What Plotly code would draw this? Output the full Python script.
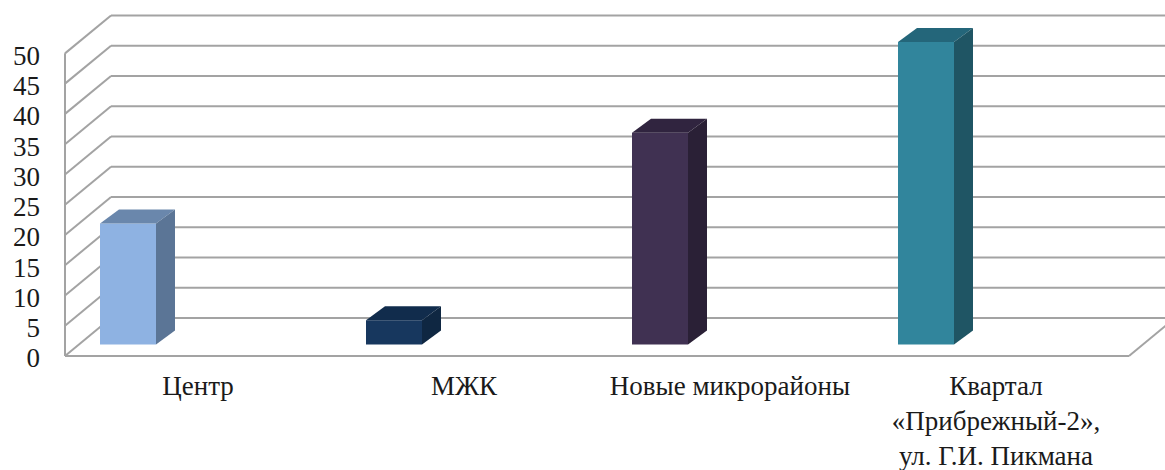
import plotly.graph_objects as go

categories = ["Центр", "МЖК", "Новые микрорайоны", "Квартал<br>«Прибрежный-2»,<br>ул. Г.И. Пикмана"]
values = [20, 4, 35, 50]
y_ticks = [0, 5, 10, 15, 20, 25, 30, 35, 40, 45, 50]

front_colors = ["#8eb2e2", "#17375e", "#403152", "#31859c"]
top_colors = ["#6a87ac", "#112c4c", "#30243f", "#24667a"]
side_colors = ["#5b7596", "#0f2742", "#2a2036", "#1f5564"]

# x axis is in pixels, y axis in chart units
px_per_unit = 6.06
floor_left = 65
floor_right = 1129
wall_dx = 46
wall_dy = 38 / px_per_unit
bar_width = 56
bar_dx = 19
bar_dy = 14 / px_per_unit
bar_base = 11.5 / px_per_unit
bar_shift = 70
grid_color = "#a3a3a3"

cat_width = (floor_right - floor_left) / len(categories)
centers = [floor_left + (i + 0.5) * cat_width for i in range(len(categories))]
bar_x = [c - bar_shift for c in centers]

fig = go.Figure()

# front faces
fig.add_trace(go.Bar(x=bar_x, y=values, base=bar_base, width=bar_width,
                     marker=dict(color=front_colors, line=dict(width=0))))

# top and side faces
for x, v, top, side in zip(bar_x, values, top_colors, side_colors):
    l = x - bar_width / 2
    r = x + bar_width / 2
    t = bar_base + v
    fig.add_trace(go.Scatter(x=[l, r, r + bar_dx, l + bar_dx, l],
                             y=[t, t, t + bar_dy, t + bar_dy, t],
                             mode="lines", fill="toself", fillcolor=top,
                             line=dict(width=0), hoverinfo="skip"))
    fig.add_trace(go.Scatter(x=[r, r + bar_dx, r + bar_dx, r, r],
                             y=[bar_base, bar_base + bar_dy, t + bar_dy, t, bar_base],
                             mode="lines", fill="toself", fillcolor=side,
                             line=dict(width=0), hoverinfo="skip"))

# walls and gridlines sit below the bars
shapes = []
def wall_line(x0, y0, x1, y1):
    shapes.append(dict(type="line", x0=x0, y0=y0, x1=x1, y1=y1, layer="below",
                       line=dict(color=grid_color, width=2)))

for t in y_ticks:
    wall_line(floor_left, t, floor_left + wall_dx, t + wall_dy)
    wall_line(floor_left + wall_dx, t + wall_dy, floor_right + wall_dx, t + wall_dy)
wall_line(floor_left, y_ticks[0], floor_left, y_ticks[-1])
wall_line(floor_left, y_ticks[0], floor_right, y_ticks[0])
wall_line(floor_right, y_ticks[0], floor_right + wall_dx, wall_dy)

font = dict(family="Liberation Serif", size=27, color="#1a1a1a")

fig.update_layout(
    width=1165, height=470, showlegend=False, shapes=shapes,
    margin=dict(l=44, r=0, t=11, b=111, autoexpand=False),
    paper_bgcolor="white", plot_bgcolor="white", font=font,
    xaxis=dict(range=[44, 1165], tickmode="array", tickvals=centers, ticktext=categories,
               showgrid=False, zeroline=False, showline=False, ticks="", automargin=False,
               ticklabelstandoff=8),
    yaxis=dict(range=[-0.5, 57], tickmode="array", tickvals=y_ticks,
               showgrid=False, zeroline=False, showline=False, ticks="", automargin=False,
               ticklabelstandoff=3, ticklabelshift=2),
)

# page default margin would push the chart 8px off
fig.write_html("out.html", config={"displayModeBar": False},
               post_script="document.body.style.margin='0';")
